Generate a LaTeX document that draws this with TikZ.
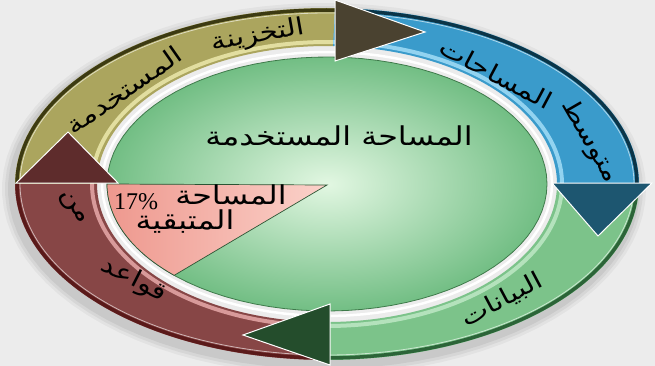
\documentclass[tikz,border=0pt]{standalone}
\usepackage{fontspec}
\setmainfont{Liberation Serif}
\newfontfamily\arabicfont[Script=Arabic,FakeStretch=1.22]{DejaVu Sans}
\TeXXeTstate=1
\definecolor{bg}{HTML}{ECECEC}
\definecolor{olive}{HTML}{ABA55E}
\definecolor{oliverim}{HTML}{3C3A12}
\definecolor{olivelight}{HTML}{E2DEA0}
\definecolor{olivehead}{HTML}{4A4230}
\definecolor{blue}{HTML}{3A9BCB}
\definecolor{bluerim}{HTML}{0B3548}
\definecolor{bluelight}{HTML}{92D3F0}
\definecolor{bluehead}{HTML}{1D5670}
\definecolor{grn}{HTML}{7CC38A}
\definecolor{grnrim}{HTML}{2C6438}
\definecolor{grnlight}{HTML}{B4E2BC}
\definecolor{grnhead}{HTML}{244D2C}
\definecolor{red}{HTML}{874646}
\definecolor{redrim}{HTML}{5A1A1A}
\definecolor{redlight}{HTML}{D89A9A}
\definecolor{redhead}{HTML}{5E2C2C}
\definecolor{piein}{HTML}{E2F7E2}
\definecolor{pieout}{HTML}{72BE84}
\definecolor{piebord}{HTML}{3E7A4A}
\definecolor{pinkin}{HTML}{FBD2CA}
\definecolor{pinkout}{HTML}{EE988E}
\def\cx{327}
\def\cy{184}
\newcommand\ringband[5]{%
  \fill[#3] plot[domain=#1:#2,samples=60] ({\cx+312*cos(\x)},{\cy+176*sin(\x)})
     -- plot[domain=#2:#1,samples=60] ({\cx+230*cos(\x)},{\cy+138*sin(\x)}) -- cycle;
  \draw[#5,line width=4pt] plot[domain=#1:#2,samples=60] ({\cx+235*cos(\x)},{\cy+142*sin(\x)});
  \draw[#4,line width=3.5pt] plot[domain=#1:#2,samples=60] ({\cx+310*cos(\x)},{\cy+174*sin(\x)});
  \draw[white,opacity=.6,line width=.8pt] plot[domain=#1:#2,samples=60] ({\cx+307*cos(\x)},{\cy+171*sin(\x)});
}
\tikzset{
  head/.style={draw=white,line width=1pt,line join=miter},
  arctext/.style={font=\arabicfont\fontsize{24}{28}\selectfont,inner sep=0pt,text=black},
  centertext/.style={font=\arabicfont\fontsize{26}{30}\selectfont,inner sep=0pt},
  wedgetext/.style={font=\arabicfont\fontsize{26}{30}\selectfont,inner sep=0pt},
}
\begin{document}
\begin{tikzpicture}[x=1pt,y=-1pt]
\useasboundingbox (0,0) rectangle (655,366);
\fill[bg] (0,0) rectangle (655,366);
% soft shadow
\foreach \s/\o in {10/.04,7/.05,4/.06}{
  \fill[black,opacity=\o] plot[domain=0:360,samples=90] ({\cx-3+(312+\s)*cos(\x)},{\cy+5+(176+\s)*sin(\x)}) -- cycle;}
% inner background of ring
\fill[white!85!gray] plot[domain=0:360,samples=90] ({\cx+231*cos(\x)},{\cy+139*sin(\x)}) -- cycle;
% bands
\ringband{180}{271.5}{olive}{oliverim}{olivelight}
\ringband{271.5}{360}{blue}{bluerim}{bluelight}
\ringband{0}{89.5}{grn}{grnrim}{grnlight}
\ringband{89.5}{180}{red}{redrim}{redlight}
% white gap ring
\draw[white,line width=2.5pt] plot[domain=0:360,samples=90] ({\cx+225*cos(\x)},{\cy+132*sin(\x)}) -- cycle;
% pie
\shade[inner color=piein,outer color=pieout] plot[domain=0:360,samples=90] ({\cx+220*cos(\x)},{\cy+127*sin(\x)}) -- cycle;
\draw[piebord,line width=.8pt] plot[domain=0:360,samples=90] ({\cx+220*cos(\x)},{\cy+127*sin(\x)}) -- cycle;
% 17% wedge
\coordinate (pc) at (\cx,185);
\shade[left color=pinkout,right color=pinkin,shading angle=90] (pc) -- plot[domain=180:134,samples=40] ({\cx+220*cos(\x)},{\cy+127*sin(\x)}) -- cycle;
\draw[piebord!70!black,line width=.7pt] (pc) -- plot[domain=180:134,samples=40] ({\cx+220*cos(\x)},{\cy+127*sin(\x)}) -- cycle;
% arrow heads
\fill[olivehead,head] (335,0) -- (425,32) -- (335,61) -- cycle;
\fill[bluehead,head] (552,183) -- (598,236) -- (652,183) -- cycle;
\fill[grnhead,head] (330,304) -- (243,335) -- (330,365) -- cycle;
\fill[redhead,head] (16,183) -- (68,132) -- (118,183) -- cycle;
% ring texts
\node[arctext,rotate=10] (t1) at (258,36) {\beginR التخزينة\endR};
\node[arctext,rotate=35] (t2) at (124,90) {\beginR المستخدمة\endR};
\node[arctext,rotate=-28] (t3) at (496,74) {\beginR المساحات\endR};
\node[arctext,rotate=-60] (t4) at (590,141) {\beginR متوسط\endR};
\node[arctext,rotate=28] (t5) at (502,300) {\beginR البيانات\endR};
\node[arctext,rotate=-27] (t6) at (134,280) {\beginR قواعد\endR};
\node[arctext,rotate=-55] (t7) at (72,208) {\beginR من\endR};
% center texts
\node[centertext] (c1) at (339,136) {\beginR المساحة المستخدمة\endR};
\node[wedgetext] (w1) at (231,195) {\beginR المساحة\endR};
\node[font=\fontsize{24}{26}\selectfont,inner sep=0pt] (w2) at (136,202) {17\%};
\node[wedgetext] (w3) at (185,222) {\beginR المتبقية\endR};
\end{tikzpicture}
\end{document}
